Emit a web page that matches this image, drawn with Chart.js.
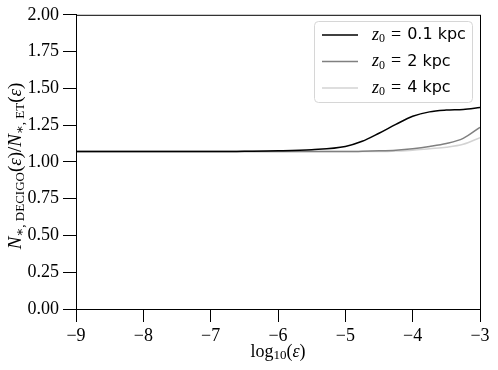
<!DOCTYPE html>
<html>
<head>
<meta charset="utf-8">
<script src="https://cdn.jsdelivr.net/npm/chart.js"></script>
<style>
  body { margin: 0; background: #fff; }
  canvas { display: block; }
</style>
</head>
<body>
<canvas id="chart" width="498" height="370"></canvas>
<script>
// log10(eps) sample points
const logEps = [-9, -8, -7, -6.5, -6, -5.5, -5, -4.75, -4.5, -4.25, -4, -3.75, -3.5, -3.25, -3];

// N*,DECIGO / N*,ET ratio for each z0
const ratio01 = [1.07, 1.07, 1.07, 1.072, 1.075, 1.083, 1.105, 1.14, 1.195, 1.255, 1.31, 1.34, 1.352, 1.357, 1.37];
const ratio2  = [1.07, 1.07, 1.07, 1.07, 1.07, 1.07, 1.07, 1.072, 1.075, 1.08, 1.09, 1.105, 1.125, 1.16, 1.235];
const ratio4  = [1.07, 1.07, 1.07, 1.07, 1.07, 1.07, 1.07, 1.07, 1.07, 1.074, 1.08, 1.09, 1.10, 1.12, 1.165];

const seriesNames = ['0.1 kpc', '2 kpc', '4 kpc'];
const seriesColors = ['#000000', '#808080', '#d3d3d3'];

const xTicks = [-9, -8, -7, -6, -5, -4, -3];
const yTicks = [0, 0.25, 0.5, 0.75, 1, 1.25, 1.5, 1.75, 2];

const SERIF = '"Liberation Serif", "DejaVu Serif", serif';
const SANS = '"DejaVu Sans", sans-serif';

function pts(ys) {
  return logEps.map((x, i) => ({ x: x, y: ys[i] }));
}

// draw a run of text pieces (font, dy) centred on 0
function drawPieces(ctx, pieces) {
  let total = 0;
  pieces.forEach(p => { ctx.font = p.font; p.w = ctx.measureText(p.t).width; total += p.w; });
  let x = -total / 2;
  pieces.forEach(p => {
    ctx.font = p.font;
    ctx.fillText(p.t, x, p.dy || 0);
    x += p.w;
  });
}

const extras = {
  id: 'extras',
  afterDraw(chart) {
    const ctx = chart.ctx;
    const a = chart.chartArea;
    ctx.save();
    // frame
    ctx.strokeStyle = '#000';
    ctx.lineWidth = 1;
    ctx.strokeRect(a.left + 0.5, a.top + 0.5, a.right - a.left, a.bottom - a.top);

    ctx.fillStyle = '#000';
    ctx.textBaseline = 'middle';
    ctx.textAlign = 'left';

    // x title
    ctx.save();
    ctx.translate((a.left + a.right) / 2, 352);
    drawPieces(ctx, [
      { t: 'log', font: '18px ' + SERIF },
      { t: '10', font: '13px ' + SERIF, dy: 4 },
      { t: '(', font: '18px ' + SERIF },
      { t: 'ε', font: 'italic 18px ' + SERIF },
      { t: ')', font: '18px ' + SERIF }
    ]);
    ctx.restore();

    // y title
    ctx.save();
    ctx.translate(16, (a.top + a.bottom) / 2 + 4);
    ctx.rotate(-Math.PI / 2);
    drawPieces(ctx, [
      { t: 'N', font: 'italic 19px ' + SERIF },
      { t: '∗, DECIGO', font: '13px ' + SERIF, dy: 5 },
      { t: '(', font: '19px ' + SERIF },
      { t: 'ε', font: 'italic 19px ' + SERIF },
      { t: ')/', font: '19px ' + SERIF },
      { t: 'N', font: 'italic 19px ' + SERIF },
      { t: '∗, ET', font: '13px ' + SERIF, dy: 5 },
      { t: '(', font: '19px ' + SERIF },
      { t: 'ε', font: 'italic 19px ' + SERIF },
      { t: ')', font: '19px ' + SERIF }
    ]);
    ctx.restore();

    // legend
    const bx = 314, by = 21, bw = 158, bh = 81;
    ctx.fillStyle = 'rgba(255,255,255,0.8)';
    ctx.strokeStyle = '#d6d6d6';
    ctx.beginPath();
    ctx.roundRect(bx + 0.5, by + 0.5, bw, bh, 4);
    ctx.fill();
    ctx.stroke();
    chart.data.datasets.forEach((ds, i) => {
      const y = 35 + i * 26.5;
      ctx.strokeStyle = ds.borderColor;
      ctx.lineWidth = 1.5;
      ctx.beginPath();
      ctx.moveTo(322, y);
      ctx.lineTo(358, y);
      ctx.stroke();
      ctx.fillStyle = '#000';
      let x = 372;
      ctx.font = 'italic 18px ' + SERIF;
      ctx.fillText('z', x, y);
      x += ctx.measureText('z').width;
      ctx.font = '12px ' + SERIF;
      ctx.fillText('0', x, y + 4);
      x += ctx.measureText('0').width + 6;
      ctx.font = '18px ' + SERIF;
      ctx.fillText('=', x, y);
      x += ctx.measureText('=').width + 6;
      ctx.font = '16px ' + SANS;
      ctx.fillText(seriesNames[i], x, y);
    });
    ctx.restore();
  }
};

new Chart(document.getElementById('chart'), {
  type: 'line',
  data: {
    datasets: [ratio01, ratio2, ratio4].map((ys, i) => ({
      label: seriesNames[i],
      data: pts(ys),
      borderColor: seriesColors[i],
      borderWidth: 1.5,
      pointRadius: 0,
      cubicInterpolationMode: 'monotone',
      fill: false
    }))
  },
  options: {
    responsive: false,
    animation: false,
    layout: { padding: { top: 13, right: 18, left: 0, bottom: 0 } },
    plugins: { legend: { display: false }, tooltip: { enabled: false } },
    scales: {
      x: {
        type: 'linear',
        min: -9, max: -3,
        afterFit: s => { s.height = 61; },
        afterBuildTicks: s => { s.ticks = xTicks.map(v => ({ value: v })); },
        grid: { drawOnChartArea: false, tickLength: 13, tickColor: '#000', tickWidth: 1 },
        border: { color: '#000', width: 1 },
        ticks: {
          color: '#000',
          padding: 3,
          maxRotation: 0,
          font: { family: SERIF, size: 18 },
          callback: v => (v < 0 ? '\u2212' + Math.abs(v) : String(v))
        }
      },
      y: {
        min: 0, max: 2,
        afterFit: s => { s.width = 76; },
        afterBuildTicks: s => { s.ticks = yTicks.map(v => ({ value: v })); },
        grid: { drawOnChartArea: false, tickLength: 13, tickColor: '#000', tickWidth: 1 },
        border: { color: '#000', width: 1 },
        ticks: {
          color: '#000',
          padding: 4,
          font: { family: SERIF, size: 18 },
          callback: v => v.toFixed(2)
        }
      }
    }
  },
  plugins: [extras]
});
</script>
</body>
</html>
